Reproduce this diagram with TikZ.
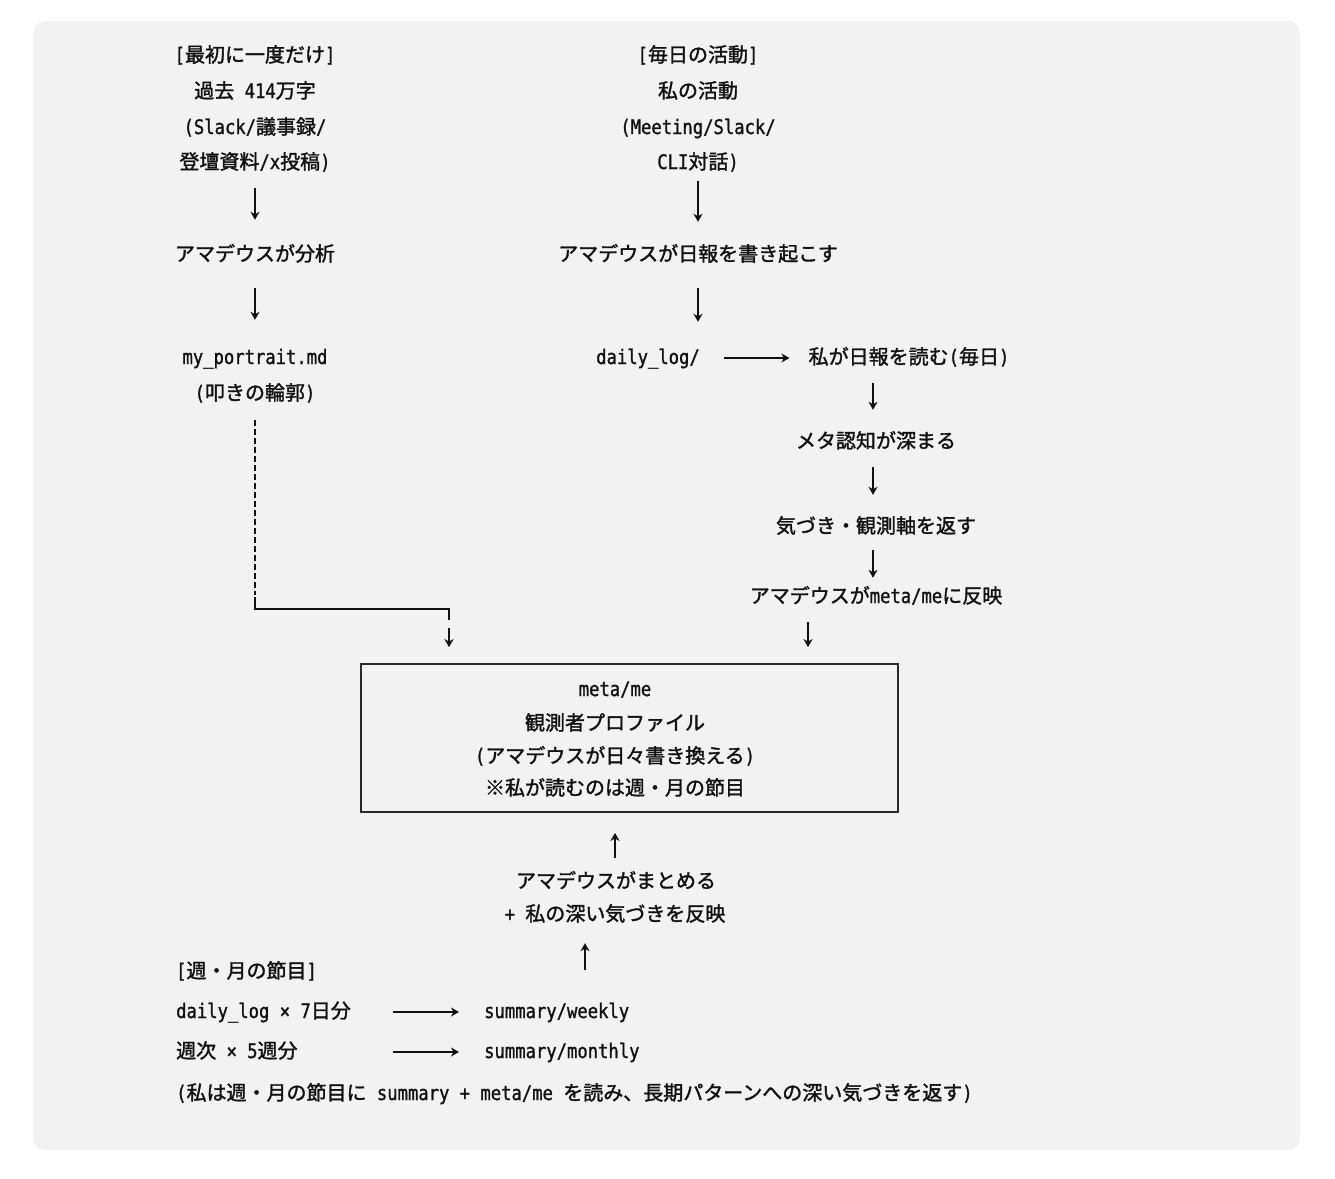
\documentclass[tikz,border=0pt]{standalone}
\usepackage{fontspec}
\setmainfont{Noto Sans CJK JP}[FakeBold=1.6]
\newfontfamily\monofam{DejaVu Sans Mono}[FakeStretch=0.86,FakeBold=1.2]
\newcommand\mn[1]{{\monofam\fontsize{20}{24}\selectfont #1}}
\usetikzlibrary{arrows.meta,calc}
\definecolor{bgc}{HTML}{F2F2F2}
\definecolor{ink}{HTML}{111111}
\tikzset{
  t/.style={inner sep=0pt, text height=15pt, text depth=3pt, text=ink,
            font=\fontsize{20}{24}\selectfont},
  arr/.style={draw=ink, line width=1.7pt, -{Stealth[length=8pt,width=9pt,inset=2.5pt]}},
  ln/.style={draw=ink, line width=1.7pt},
  dsh/.style={draw=ink, line width=1.7pt, dash pattern=on 6pt off 3pt},
  frame/.style={draw=ink!90, line width=1.8pt, inner sep=0pt, minimum width=537pt, minimum height=148pt}
}
\begin{document}
\begin{tikzpicture}[x=1pt,y=-1pt]
\useasboundingbox (0,0) rectangle (1335,1178);
\fill[white] (0,0) rectangle (1335,1178);
\fill[bgc, rounded corners=12pt] (33,21) rectangle (1300,1150);

% left column
\node[t] (L1) at (255,56) {\mn{[}最初に一度だけ\mn{]}};
\node[t] (L2) at (255,92) {過去\mn{ 414}万字};
\node[t] (L3) at (255,128) {\mn{(Slack/}議事録\mn{/}};
\node[t] (L4) at (255,163) {登壇資料\mn{/x}投稿\mn{)}};
\node[t] (L5) at (255,255) {アマデウスが分析};
\node[t] (L6) at (255,358) {\mn{my\_portrait.md}};
\node[t] (L7) at (255,394) {\mn{(}叩きの輪郭\mn{)}};

% right column
\node[t] (R1) at (698,56) {\mn{[}毎日の活動\mn{]}};
\node[t] (R2) at (698,92) {私の活動};
\node[t] (R3) at (698,128) {\mn{(Meeting/Slack/}};
\node[t] (R4) at (698,163) {\mn{CLI}対話\mn{)}};
\node[t] (R5) at (698,255) {アマデウスが日報を書き起こす};
\node[t] (R6) at (648,358) {\mn{daily\_log/}};
\node[t] (R7) at (909,358) {私が日報を読む\mn{(}毎日\mn{)}};
\node[t] (R8) at (876,442) {メタ認知が深まる};
\node[t] (R9) at (876,527) {気づき・観測軸を返す};
\node[t] (R10) at (876,597) {アマデウスが\mn{meta/me}に反映};

% central box
\node[frame] (box) at (629.5,738) {};
\node[t] (B1) at (615,690) {\mn{meta/me}};
\node[t] (B2) at (615,724) {観測者プロファイル};
\node[t] (B3) at (615,757) {\mn{(}アマデウスが日々書き換える\mn{)}};
\node[t] (B4) at (615,789) {※私が読むのは週・月の節目};

\node[t] (S1) at (616,882) {アマデウスがまとめる};
\node[t] (S2) at (615,915) {\mn{+ }私の深い気づきを反映};

% bottom section
\node[t, anchor=west] (H) at (176,972) {\mn{[}週・月の節目\mn{]}};
\node[t, anchor=west] (D1) at (176,1012) {\mn{daily\_log × 7}日分};
\node[t, anchor=west] (W1) at (484,1012) {\mn{summary/weekly}};
\node[t, anchor=west] (D2) at (176,1052) {週次\mn{ × 5}週分};
\node[t, anchor=west] (W2) at (484,1052) {\mn{summary/monthly}};
\node[t, anchor=west] (F) at (176,1094) {\mn{(}私は週・月の節目に\mn{ summary + meta/me }を読み、長期パターンへの深い気づきを返す\mn{)}};

% helper coordinates
\coordinate (kR10) at (808,0);
\coordinate (kR7) at (873,0);
\coordinate (kS2) at (585,0);
\coordinate (kD) at (393,0);
\coordinate (c1) at (255,609);
\coordinate (c2) at (449,609);

% left arrows
\draw[arr, shorten <=16pt, shorten >=26pt] (L4) -- (L5);
\draw[arr, shorten <=24pt, shorten >=29pt] (L5) -- (L6);
% portrait -> box
\draw[dsh, shorten <=17pt] (L7.south) -- ($(c1)+(0,-14)$);
\draw[ln] ($(c1)+(0,-12)$) -- (c1) -- (c2) -- ($(c2)+(0,11)$);
\draw[arr, shorten <=19pt, shorten >=16pt] (c2) -- (box.north -| c2);

% right arrows
\draw[arr, shorten <=9pt, shorten >=24pt] (R4) -- (R5);
\draw[arr, shorten <=24pt, shorten >=27pt] (R5.south) -- (R5 |- R6.north);
\draw[arr, shorten <=24pt, shorten >=19pt] (R6.east) -- (R7.west);
\draw[arr, shorten <=16pt, shorten >=23pt] (R7.south -| kR7) -- (R8.north -| kR7);
\draw[arr, shorten <=16pt, shorten >=23pt] (R8.south -| kR7) -- (R9.north -| kR7);
\draw[arr, shorten <=14pt, shorten >=10pt] (R9.south -| kR7) -- (R10.north -| kR7);
\draw[arr, shorten <=16pt, shorten >=16pt] (R10.south -| kR10) -- (box.north -| kR10);

% upward arrows
\draw[arr, shorten <=15pt, shorten >=20pt] (S1.north -| B1) -- (box.south -| B1);
\draw[arr, shorten <=33pt, shorten >=19pt] (W1.north -| kS2) -- (S2.south -| kS2);

% bottom horizontal arrows
\draw[arr, shorten >=25pt] (D1.east -| kD) -- (W1.west);
\draw[arr, shorten >=25pt] (D2.east -| kD) -- (W2.west);
\end{tikzpicture}
\end{document}
